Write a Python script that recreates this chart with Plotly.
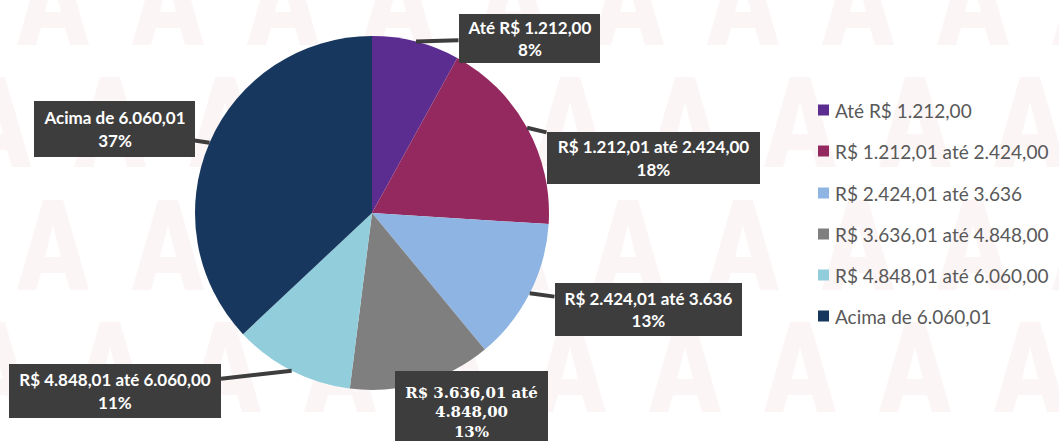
import math
import plotly.graph_objects as go

# ---- data ----
categories = [
    "Até R$ 1.212,00",
    "R$ 1.212,01 até 2.424,00",
    "R$ 2.424,01 até 3.636",
    "R$ 3.636,01 até 4.848,00",
    "R$ 4.848,01 até 6.060,00",
    "Acima de 6.060,01",
]
values = [8, 18, 13, 13, 11, 37]
callout_texts = [
    "Até R$ 1.212,00",
    "R$ 1.212,01 até 2.424,00",
    "R$ 2.424,01 até 3.636",
    "R$ 3.636,01 até<br>4.848,00",
    "R$ 4.848,01 até 6.060,00",
    "Acima de 6.060,01",
]
colors = ["#5B2D90", "#94295F", "#8DB4E2", "#7F7F7F", "#92CDDC", "#17375E"]

# ---- layout constants (pixels) ----
W, H = 1059, 441
cx, cy, R = 372, 213, 177

# callout box centers / sizes (pixels)
box_pos = [
    (529, 38, 141, 49),
    (653, 158, 213, 52),
    (648, 309, 187, 53),
    (471, 412, 153, 82),
    (115, 391, 212, 54),
    (114, 129, 161, 56),
]
box_fonts = ["Lato"] * 3 + ["DejaVu Serif"] + ["Lato"] * 2
box_sizes = [17, 17, 17, 15, 17, 17]


def px(x):
    return x / W


def py(y):
    return 1 - y / H


fig = go.Figure()
fig.add_trace(go.Pie(
    labels=categories,
    values=values,
    sort=False,
    direction="clockwise",
    rotation=0,
    marker=dict(colors=colors, line=dict(width=0)),
    textinfo="none",
    hoverinfo="skip",
    showlegend=False,
    domain=dict(x=[(cx - R) / W, (cx + R) / W],
                y=[(H - cy - R) / H, (H - cy + R) / H]),
))

shapes = []
# faint watermark "A" pattern (background decoration)
wm_color = "#FCF5F6"
for r, yc in enumerate([0, 122, 245, 367]):
    x0 = 53 if r % 2 == 0 else -5
    for k in range(11):
        xc = x0 + 115 * k
        outer = [(xc - 36, yc + 45), (xc - 10, yc - 45), (xc + 10, yc - 45),
                 (xc + 36, yc + 45), (xc + 17, yc + 45), (xc + 12, yc + 28),
                 (xc - 12, yc + 28), (xc - 17, yc + 45)]
        hole = [(xc - 8, yc + 12), (xc, yc - 20), (xc + 8, yc + 12)]
        path = "M" + " L".join("%.4f,%.4f" % (px(a), py(b)) for a, b in outer) + " Z"
        path += " M" + " L".join("%.4f,%.4f" % (px(a), py(b)) for a, b in hole) + " Z"
        shapes.append(dict(type="path", xref="paper", yref="paper", path=path,
                           fillcolor=wm_color, line=dict(width=0),
                           layer="below", fillrule="evenodd"))

total = sum(values)
annotations = []
cum = 0
for i, v in enumerate(values):
    mid = (cum + v / 2) / total
    cum += v
    th = 2 * math.pi * mid
    tx = cx + R * math.sin(th)
    ty = cy - R * math.cos(th)
    bx, by, bw, bh = box_pos[i]
    pct = round(100 * v / total)
    annotations.append(dict(
        x=px(tx), y=py(ty), xref="paper", yref="paper",
        text="<b>%s<br>%d%%</b>" % (callout_texts[i], pct),
        showarrow=True, arrowhead=0, arrowwidth=4, arrowcolor="#3D3D3D",
        standoff=0,
        ax=bx - tx, ay=by - ty, axref="pixel", ayref="pixel",
        bgcolor="#3D3D3D", borderwidth=0, borderpad=0,
        width=bw, height=bh,
        font=dict(family=box_fonts[i], size=box_sizes[i], color="white"),
        align="center", valign="middle",
    ))

# manual legend
leg_y = [110, 151, 193, 234, 275, 316]
for i, lab in enumerate(categories):
    y = leg_y[i]
    shapes.append(dict(type="rect", xref="paper", yref="paper",
                       x0=px(818), x1=px(829),
                       y0=py(y + 5.5), y1=py(y - 5.5),
                       fillcolor=colors[i], line=dict(width=0)))
    annotations.append(dict(
        x=px(833), y=py(y), xref="paper", yref="paper",
        text=lab, showarrow=False, xanchor="left", yanchor="middle",
        font=dict(family="Lato", size=19, color="#595959"),
    ))

fig.update_layout(
    width=W, height=H,
    margin=dict(l=0, r=0, t=0, b=0),
    paper_bgcolor="white", plot_bgcolor="white",
    annotations=annotations, shapes=shapes,
    showlegend=False,
)
fig.write_html("out.html",
               config={"displayModeBar": False, "staticPlot": True},
               post_script="document.body.style.margin='0';document.body.style.overflow='hidden';")
